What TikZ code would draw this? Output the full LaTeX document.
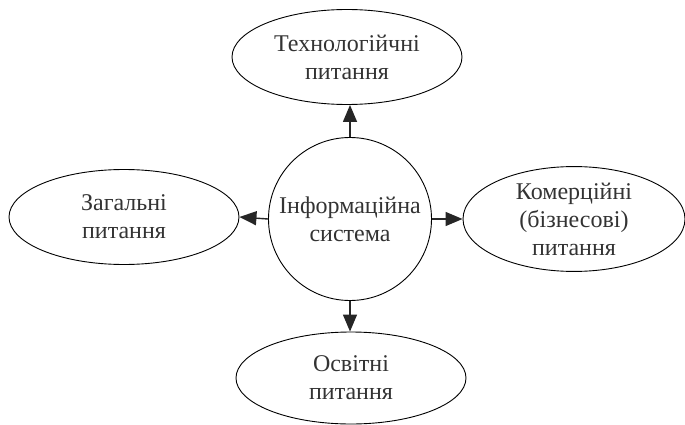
\documentclass[tikz,border=0pt]{standalone}
\usepackage{fontspec}
\setmainfont{Liberation Serif}
\usetikzlibrary{arrows.meta}
\usetikzlibrary{shapes.geometric}

\begin{document}
\begin{tikzpicture}[x=1pt,y=1pt,yscale=-1,xscale=1,
  oval/.style={draw, ellipse, line width=0.9pt, minimum width=230pt, minimum height=95pt, inner sep=0.75pt, align=center, text=black!80, font=\fontsize{24}{28}\selectfont},
  hub/.style={draw, circle, line width=0.9pt, minimum size=163pt, inner sep=0.75pt, align=center, text=black!80, font=\fontsize{24}{28}\selectfont},
  link/.style={line width=1.4pt, black!85, -{Triangle[length=17pt,width=14pt]}}]
\useasboundingbox (0,0) rectangle (685,425);

%Shape: Circle [id:hub]
\node [hub] (sys) at (350,219) {Інформаційна\\система};
%Shape: Ellipse [id:top]
\node [oval] (tech) at (347,57) {Технологійчні\\питання};
%Shape: Ellipse [id:left]
\node [oval] (gen) at (124,217) {Загальні\\питання};
%Shape: Ellipse [id:right]
\node [oval, minimum width=222pt] (com) at (574,219) {Комерційні\\(бізнесові)\\питання};
%Shape: Ellipse [id:bottom]
\node [oval, minimum height=92pt] (edu) at (351,378) {Освітні\\питання};

%Straight Lines
\draw [link] (sys.north) -- (sys.north |- tech.south);
\draw [link] (sys.west) -- (gen.east);
\draw [link] (sys.east) -- (com.west);
\draw [link] (sys.south) -- (sys.south |- edu.north);

\end{tikzpicture}
\end{document}
